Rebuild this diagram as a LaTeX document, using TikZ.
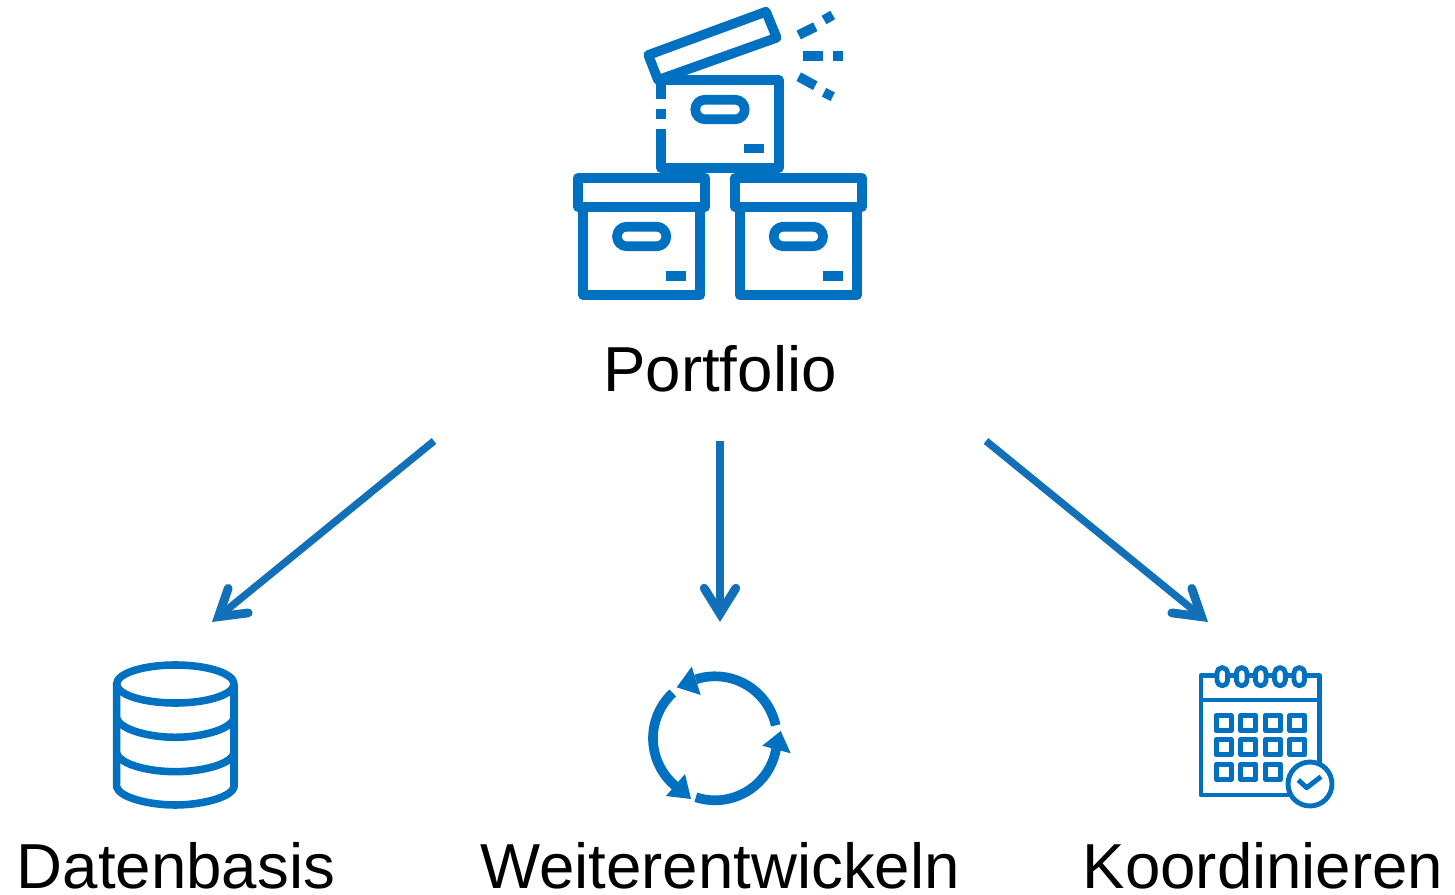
\documentclass[tikz,border=0pt]{standalone}
\usepackage{fontspec}
\setmainfont{Liberation Sans}
\usetikzlibrary{arrows.meta}
\definecolor{iconblue}{HTML}{0070C0}
\definecolor{arrowblue}{HTML}{1170B8}
\tikzset{
    iconline/.style={draw=iconblue, line width=5.5pt, line join=round},
    roundline/.style={draw=iconblue, line width=4.3pt, line join=round},
    thinline/.style={draw=iconblue, line width=2.8pt, line join=round},
    lbl/.style={anchor=base, inner sep=0pt, font=\fontsize{36.2}{40}\selectfont},
    flow/.style={draw=arrowblue, line width=4.2pt, -{Straight Barb[length=14.5pt, width=18pt, line width=5pt, line cap=round, line join=miter]}}
}
\begin{document}
\begin{tikzpicture}[x=0.02cm, y=-0.02cm]
\useasboundingbox (0,0) rectangle (1455,895);

% Boxes
\foreach \dx in {0,156.7} {
    \draw[iconline] (578+\dx,178) rectangle (705.3+\dx,207);
    \draw[iconline] (583+\dx,207) -- (583+\dx,295.3) -- (700.3+\dx,295.3) -- (700.3+\dx,207);
    \draw[iconline, rounded corners=5.5pt] (617+\dx,226.7) rectangle (666.3+\dx,246.3);
    \fill[iconblue] (666+\dx,271.3) rectangle (686+\dx,281);
}
\draw[iconline] (661,99) -- (661,80) -- (779,80) -- (779,168) -- (661,168) -- (661,129);
\fill[iconblue] (656.3,109) rectangle (665.7,119);
\draw[iconline, rounded corners=5.5pt] (695.3,99.7) rectangle (744.7,119.3);
\fill[iconblue] (744.3,144) rectangle (764,153.3);
\draw[iconline] (648.3,55) -- (766,11.7) -- (776.7,37.7) -- (658,80) -- cycle;
% Sparks
\fill[iconblue] (803.3,51) rectangle (823,60.7);
\fill[iconblue] (832.7,51) rectangle (842.7,60.7);
\draw[iconline] (798.7,35) -- (815.3,26.7);
\draw[iconline] (824,20) -- (832.7,15);
\draw[iconline] (798.7,76.7) -- (815.3,85.7);
\draw[iconline] (824,92.3) -- (832.7,96.7);
\node[lbl] (portfolio) at (720,392) {Portfolio};

% Arrows
\coordinate (startdaten) at (434,441);
\coordinate (startweiter) at (720,441);
\coordinate (startkoord) at (986,441);
\coordinate (enddaten) at (212,622);
\coordinate (endweiter) at (720,622);
\coordinate (endkoord) at (1208,622);
\draw[flow] (startdaten) -- (enddaten);
\draw[flow] (startweiter) -- (endweiter);
\draw[flow] (startkoord) -- (endkoord);

% Datenbasis
\draw[roundline] (175.3,684) ellipse (58.7 and 19);
\draw[roundline] (116.6,684) -- (116.6,787) .. controls (120,798) and (150,805) .. (175.3,805) .. controls (200,805) and (231,798) .. (234,787) -- (234,684);
\draw[roundline] (116.6,718) .. controls (120,730) and (150,737.3) .. (175.3,737.3) .. controls (200,737.3) and (231,730) .. (234,718);
\draw[roundline] (116.6,753) .. controls (120,765) and (150,771.7) .. (175.3,771.7) .. controls (200,771.7) and (231,765) .. (234,753);
\node[lbl] (datenbasis) at (176,888) {Datenbasis};

% Weiterentwickeln
\foreach \s/\e in {12/108,133/230,252/350}
    \draw[iconline, line join=miter] plot[domain=\s:\e, samples=30] ({715+62*cos(\x)},{738.3-62*sin(\x)});
\fill[iconblue] (676.7,687.3) -- (691.7,666.7) -- (700.7,695) -- cycle;
\fill[iconblue] (691,799) -- (666,796) -- (685,774) -- cycle;
\fill[iconblue] (780.7,731) -- (762.3,745.7) -- (790.7,753.3) -- cycle;
\node[lbl] (weiter) at (720,888) {Weiterentwickeln};

% Koordinieren
\draw[thinline] (1201,675.7) rectangle (1319.3,795);
\draw[thinline] (1201,700) -- (1319.3,700);
\foreach \x in {1222.3,1241.7,1260.7,1280,1299.3}
    \draw[thinline, fill=white, rounded corners=2.9pt] (\x-5.3,667.7) rectangle (\x+5.3,685.7);
\foreach \y in {723,747.3}
    \foreach \x in {1223.7,1248.3,1273,1297.3}
        \draw[thinline] (\x-7.6,\y-7.6) rectangle (\x+7.6,\y+7.6);
\foreach \x in {1223.7,1248.3,1273}
    \draw[thinline] (\x-7.6,771.7-7.6) rectangle (\x+7.6,771.7+7.6);
\draw[thinline, fill=white] (1310,784) circle (22);
\draw[thinline] (1298.3,780) -- (1306.7,787.7) -- (1321,776.7);
\node[lbl] (koord) at (1263,888) {Koordinieren};
\end{tikzpicture}
\end{document}
